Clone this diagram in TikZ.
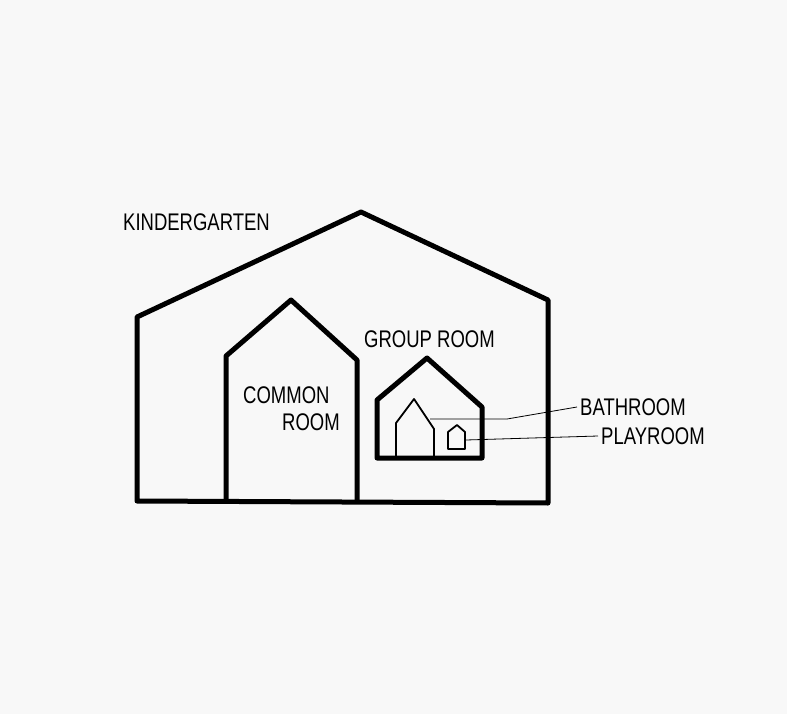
\documentclass[tikz,border=0pt]{standalone}
\usepackage{fontspec}
\setmainfont{Liberation Sans}
\usetikzlibrary{calc}
\definecolor{paper}{HTML}{F8F8F8}
\newcommand{\tallword}[1]{\scalebox{1}[1.3]{#1}}
\tikzset{
  wall/.style={line width=5pt, line join=round, line cap=round},
  thinwall/.style={line width=1.8pt, line join=round},
  leader/.style={line width=0.8pt},
  lbl/.style={font=\fontsize{18.5}{21}\selectfont, inner sep=3pt, anchor=west}
}
\begin{document}
\begin{tikzpicture}[x=1pt, y=-1pt]
    \fill[paper] (0, 0) rectangle (787, 714);

    % kindergarten
    \draw[wall] (137, 501) -- (137, 317) -- (361, 212) -- (548, 300)
      -- (548, 503) -- cycle;
    \node[lbl] (kg) at (120, 222) {\tallword{KINDERGARTEN}};

    % common room
    \draw[wall] (226, 501) -- (226, 356) -- (291, 300) -- (357, 360)
      -- (357, 501);
    \node[lbl] (cr1) at (240, 395) {\tallword{COMMON}};
    \node[lbl] (cr2) at (279, 422) {\tallword{ROOM}};

    % group room
    \draw[wall] (377, 458) -- (377, 400) -- (427, 358) -- (482, 407)
      -- (482, 458) -- cycle;
    \node[lbl] (gr) at (361, 339) {\tallword{GROUP ROOM}};

    % bathroom and playroom
    \draw[thinwall] (396, 458) -- (396, 423) -- (414, 399) -- (434, 429)
      -- (434, 458);
    \draw[thinwall] (448, 449) -- (448, 432) -- (457, 425) -- (465, 432)
      -- (465, 449) -- cycle;
    \coordinate (bath) at (430, 419);
    \coordinate (play) at (466, 440);
    \node[lbl] (bathlbl) at (577, 407) {\tallword{BATHROOM}};
    \node[lbl] (playlbl) at (598, 436) {\tallword{PLAYROOM}};

    \draw[leader] (bath) -- (507, 419) -- (bathlbl.west);
    \draw[leader] (play) -- (playlbl.west);
\end{tikzpicture}
\end{document}
